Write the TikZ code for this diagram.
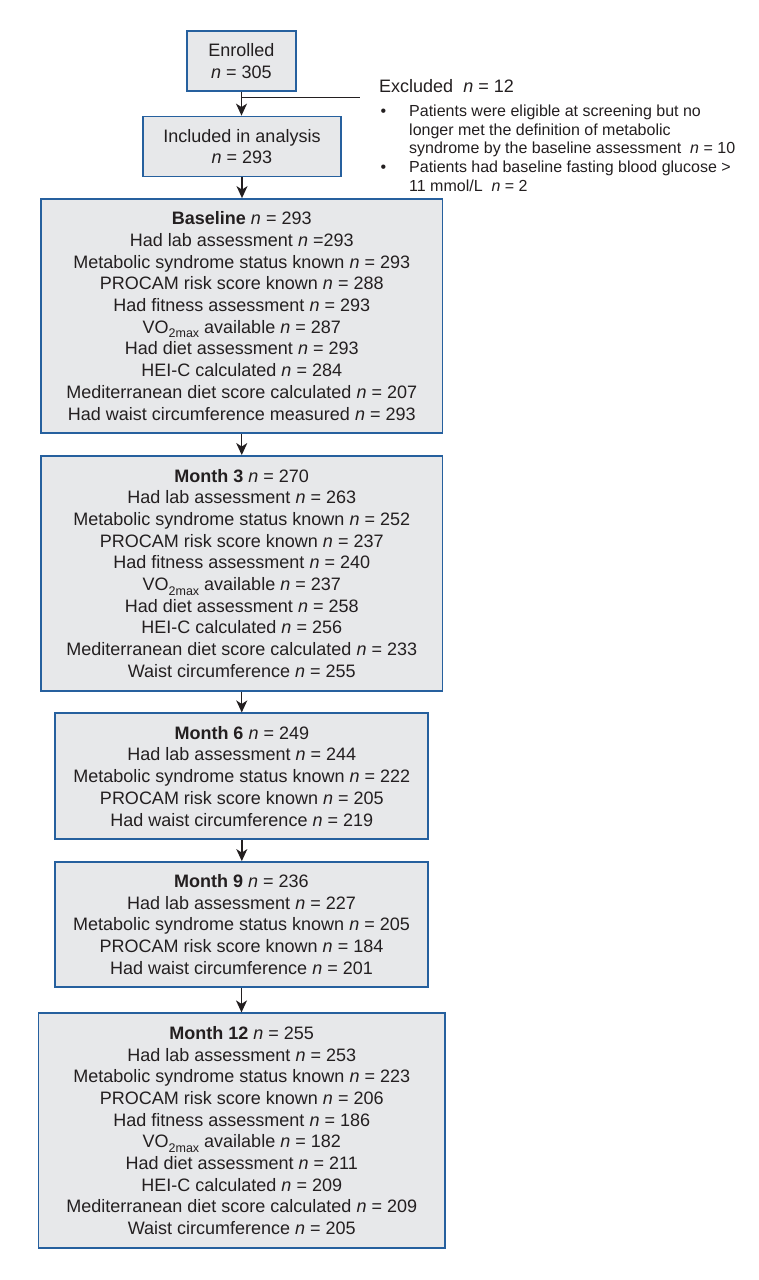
\documentclass[tikz,border=0pt]{standalone}
\usepackage{fontspec}
\setmainfont{Liberation Sans}
\usetikzlibrary{arrows.meta}
\definecolor{boxfill}{RGB}{231,232,234}
\definecolor{boxline}{RGB}{38,96,158}
\definecolor{ink}{RGB}{35,31,32}
\newcommand{\vomax}{VO\raisebox{-4.5pt}{\fontsize{12.5}{13}\selectfont 2max}}
\begin{document}
\begin{tikzpicture}[x=1pt,y=-1pt,
  box/.style={draw=boxline, line width=1.8pt, fill=boxfill, inner sep=0pt, align=center, text=ink, font=\fontsize{18}{21.7}\selectfont},
  flow/.style={draw=ink, line width=1.4pt, -{Stealth[length=12pt,width=11pt,inset=3.5pt]}},
  plain/.style={draw=ink, line width=1.3pt},
  note/.style={anchor=north west, inner sep=0pt, align=left, text=ink, font=\fontsize{16}{18.8}\selectfont}
]
\useasboundingbox (0,0) rectangle (758,1280);
\fill[white] (0,0) rectangle (758,1280);

\node[box, minimum width=109pt, minimum height=60pt] (enr) at (241.5,61) {Enrolled\\\textit{n} = 305};
\node[box, minimum width=198pt, minimum height=60pt] (inc) at (242,146.5) {Included in analysis\\\textit{n} = 293};

\node[box, minimum width=401.5pt, minimum height=234pt] (base) at (241.75,316) {%
\textbf{Baseline} \textit{n} = 293\\
Had lab assessment \textit{n} =293\\
Metabolic syndrome status known \textit{n} = 293\\
PROCAM risk score known \textit{n} = 288\\
Had fitness assessment \textit{n} = 293\\
\vomax{} available \textit{n} = 287\\
Had diet assessment \textit{n} = 293\\
HEI-C calculated \textit{n} = 284\\
Mediterranean diet score calculated \textit{n} = 207\\
Had waist circumference measured \textit{n} = 293};

\node[box, minimum width=401.5pt, minimum height=234.7pt] (m3) at (241.75,573.3) {%
\textbf{Month 3} \textit{n} = 270\\
Had lab assessment \textit{n} = 263\\
Metabolic syndrome status known \textit{n} = 252\\
PROCAM risk score known \textit{n} = 237\\
Had fitness assessment \textit{n} = 240\\
\vomax{} available \textit{n} = 237\\
Had diet assessment \textit{n} = 258\\
HEI-C calculated \textit{n} = 256\\
Mediterranean diet score calculated \textit{n} = 233\\
Waist circumference \textit{n} = 255};

\node[box, minimum width=373pt, minimum height=125.7pt] (m6) at (241.8,776.2) {%
\textbf{Month 6} \textit{n} = 249\\
Had lab assessment \textit{n} = 244\\
Metabolic syndrome status known \textit{n} = 222\\
PROCAM risk score known \textit{n} = 205\\
Had waist circumference \textit{n} = 219};

\node[box, minimum width=373pt, minimum height=125pt] (m9) at (241.5,924.5) {%
\textbf{Month 9} \textit{n} = 236\\
Had lab assessment \textit{n} = 227\\
Metabolic syndrome status known \textit{n} = 205\\
PROCAM risk score known \textit{n} = 184\\
Had waist circumference \textit{n} = 201};

\node[box, minimum width=406.5pt, minimum height=234.4pt] (m12) at (241.75,1130.5) {%
\textbf{Month 12} \textit{n} = 255\\
Had lab assessment \textit{n} = 253\\
Metabolic syndrome status known \textit{n} = 223\\
PROCAM risk score known \textit{n} = 206\\
Had fitness assessment \textit{n} = 186\\
\vomax{} available \textit{n} = 182\\
Had diet assessment \textit{n} = 211\\
HEI-C calculated \textit{n} = 209\\
Mediterranean diet score calculated \textit{n} = 209\\
Waist circumference \textit{n} = 205};

\node[note] (exc) at (379,79.1) {%
{\fontsize{18}{21.7}\selectfont Excluded\ \ \textit{n} = 12}\\[5.2pt]
\makebox[30pt][l]{\hspace{1.5pt}\textbullet}Patients were eligible at screening but no\\
\hspace*{30pt}longer met the definition of metabolic\\
\hspace*{30pt}syndrome by the baseline assessment\ \ \textit{n} = 10\\
\makebox[30pt][l]{\hspace{1.5pt}\textbullet}Patients had baseline fasting blood glucose >\\
\hspace*{30pt}11 mmol/L\ \ \textit{n} = 2};

\coordinate (jn) at (enr.south |- 0,97.3);
\coordinate (jx) at (360,97.3);

\draw[flow] (enr.south) -- (enr.south |- inc.north);
\draw[plain] (jn) -- (jx);
\draw[flow] (inc.south) -- (inc.south |- base.north);
\draw[flow] (base.south) -- (base.south |- m3.north);
\draw[flow] (m3.south) -- (m3.south |- m6.north);
\draw[flow] (m6.south) -- (m6.south |- m9.north);
\draw[flow] (m9.south) -- (m9.south |- m12.north);
\end{tikzpicture}
\end{document}
